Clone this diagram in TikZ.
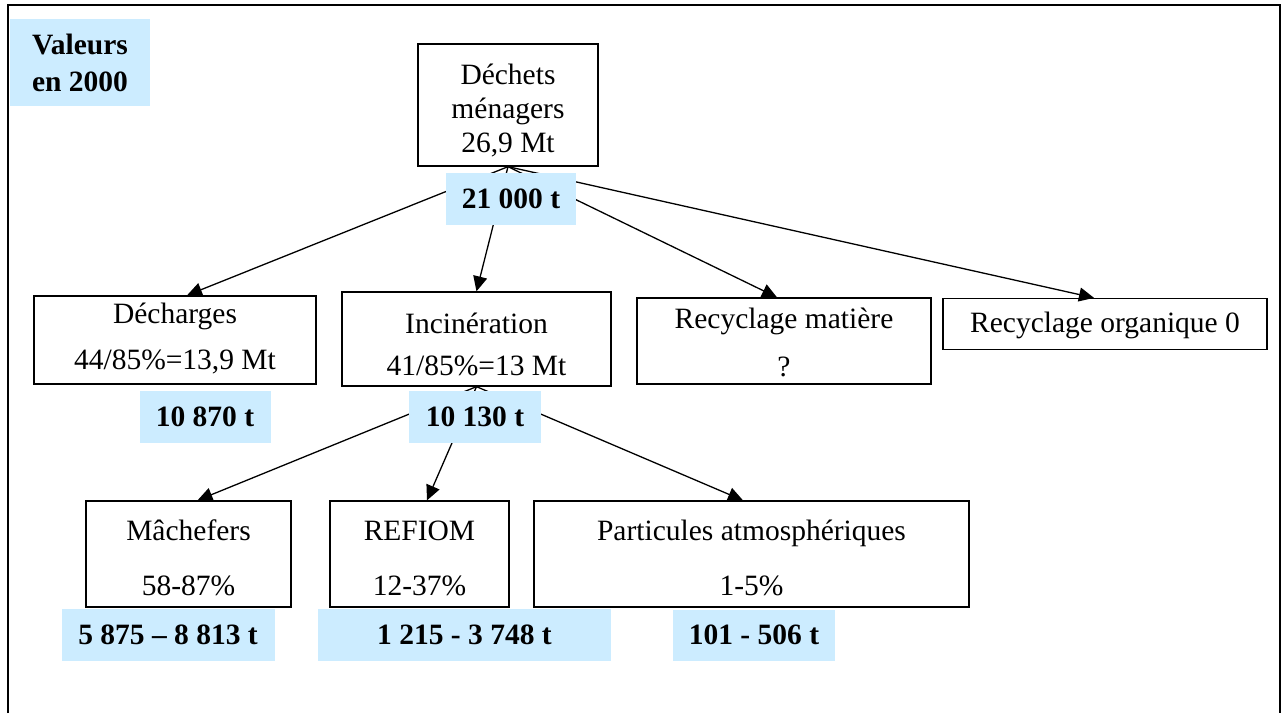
\documentclass[tikz,border=0pt]{standalone}
\usepackage{fontspec}
\setmainfont{Liberation Serif}
\usetikzlibrary{arrows.meta}
\definecolor{pale}{RGB}{204,236,255}
\begin{document}
\begin{tikzpicture}[x=1pt,y=-1pt,
  box/.style={draw, line width=1.3pt, inner sep=0pt},
  txt/.style={inner sep=0pt, align=center, font=\fontsize{29.5}{34}\selectfont},
  val/.style={fill=pale, inner sep=0pt, align=center, font=\fontsize{29.5}{37}\selectfont\bfseries},
  arr/.style={line width=1.3pt, -{Triangle[length=15pt,width=14pt]}}]
\useasboundingbox (0,0) rectangle (1285,713);
% outer frame
\draw[line width=2pt] (8,713) -- (8,5) -- (1280,5) -- (1280,713);
% boxes
\node[box, minimum width=180pt, minimum height=122pt] (dm) at (508,105) {};
\node[txt] (dm-t) at (508,111) {Déchets\\ménagers\\26,9 Mt};
\node[box, minimum width=282pt, minimum height=88pt] (dech) at (175,340) {};
\node[txt] (dech-t) at (175,339) {Décharges\\[12pt]44/85\%=13,9 Mt};
\node[box, minimum width=269pt, minimum height=94pt] (inc) at (476.5,339) {};
\node[txt] (inc-t) at (476.5,344) {Incinération\\[8pt]41/85\%=13 Mt};
\node[box, minimum width=294pt, minimum height=86pt] (mat) at (784,341) {};
\node[txt] (mat-t) at (784,342) {Recyclage matière\\[14pt]?};
\node[box, minimum width=324pt, minimum height=51pt] (org) at (1105,324) {};
\node[txt] (org-t) at (1105,325) {Recyclage organique 0};
\node[box, minimum width=205pt, minimum height=106pt] (mach) at (188.5,554) {};
\node[txt] (mach-t) at (188.5,558) {Mâchefers\\[21pt]58-87\%};
\node[box, minimum width=179pt, minimum height=106pt] (ref) at (419.5,554) {};
\node[txt] (ref-t) at (419.5,558) {REFIOM\\[21pt]12-37\%};
\node[box, minimum width=435pt, minimum height=106pt] (part) at (751.5,554) {};
\node[txt] (part-t) at (751.5,558) {Particules atmosphériques\\[21pt]1-5\%};
% connectors
\draw[arr] (dm.south) -- ([xshift=12pt]dech.north);
\draw[arr] (dm.south) -- (inc.north);
\draw[arr] (dm.south) -- ([xshift=-7pt]mat.north);
\draw[arr] (dm.south) -- ([xshift=-11pt]org.north);
\draw[arr] (inc.south) -- ([xshift=9pt]mach.north);
\draw[arr] (inc.south) -- ([xshift=7.5pt]ref.north);
\draw[arr] (inc.south) -- ([xshift=-8.5pt]part.north);
% value labels
\node[val, minimum width=140pt, minimum height=87pt] (vals) at (80,62.5) {Valeurs\\en 2000};
\node[val, minimum width=130pt, minimum height=52pt] (v21) at (511,199) {21 000 t};
\node[val, minimum width=131pt, minimum height=52pt] (v10870) at (205,417) {10 870 t};
\node[val, minimum width=132pt, minimum height=52pt] (v10130) at (475,417) {10 130 t};
\node[val, minimum width=213pt, minimum height=52pt] (v5875) at (168,635) {5 875 – 8 813 t};
\node[val, minimum width=293pt, minimum height=52pt] (v1215) at (464.5,635) {1 215 - 3 748 t};
\node[val, minimum width=162pt, minimum height=51pt] (v101) at (754,635) {101 - 506 t};
\end{tikzpicture}
\end{document}
